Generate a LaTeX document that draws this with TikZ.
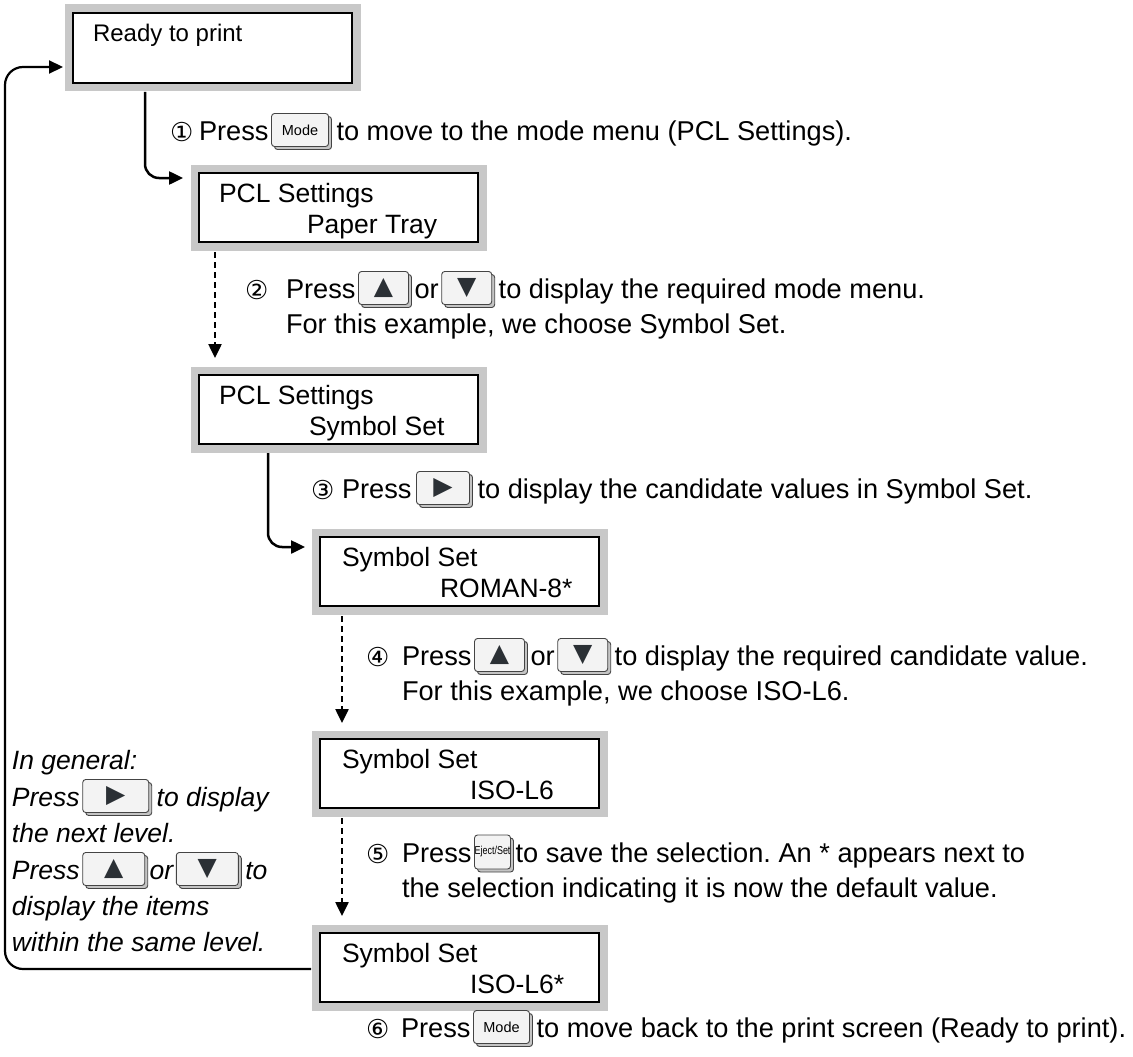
\documentclass[tikz,border=0pt]{standalone}
\usepackage{fontspec}
\setmainfont{Liberation Sans}
\newfontfamily\dv{DejaVu Sans}
\usetikzlibrary{arrows.meta,shadows,calc}
\definecolor{boxgrey}{HTML}{C8C8C8}
\definecolor{keyface}{HTML}{F3F3F3}
\definecolor{keyshadow}{HTML}{C4C4C4}
\definecolor{keyedge}{HTML}{444444}
\definecolor{trink}{HTML}{2B3035}
\newcommand{\fs}{\fontsize{26.5}{30}\selectfont}
\newcommand{\fa}{\fontsize{27.2}{30}\selectfont\frenchspacing}
\newcommand{\cnum}[1]{{\dv\fontsize{26}{26}\selectfont #1}}
\newcommand{\trig}[1]{{\dv\fontsize{25}{25}\selectfont\color{trink}#1}}
\newcommand{\keytxt}{\fontsize{14.5}{14.5}\selectfont}
\begin{document}
\begin{tikzpicture}[x=1pt,y=-1pt,
  screen/.style={draw=black, line width=2.5pt, fill=white, preaction={draw=boxgrey, line width=17pt}, minimum width=279pt, minimum height=70pt, inner sep=0pt, outer sep=0pt, anchor=north west},
  txt/.style={anchor=base west, inner sep=0pt, outer sep=0pt, font=\fs},
  atx/.style={txt, font=\fa},
  itx/.style={txt, font=\fs\itshape},
  key/.style={anchor=west, draw=keyedge, line width=0.9pt, fill=keyface, rounded corners=3pt, minimum height=33pt, inner sep=0pt, outer sep=0pt, general shadow={fill=keyshadow, draw=keyedge, line width=0.9pt, shadow xshift=3pt, shadow yshift=-3pt}},
  flow/.style={line width=2.5pt, -{Triangle[length=14pt,width=13pt]}},
  dflow/.style={line width=2.5pt, dash pattern=on 6pt off 4pt, -{Triangle[length=14pt,width=13pt]}},
]
\useasboundingbox (0,0) rectangle (1133,1057);

% screens
\node[screen] (b1) at (73,13) {};
\node[screen, minimum height=69pt] (b2) at (199,173) {};
\node[screen, minimum height=69pt] (b3) at (199,375) {};
\node[screen, minimum height=69pt] (b4) at (320,537) {};
\node[screen, minimum height=69pt] (b5) at (320,739) {};
\node[screen, minimum height=69pt] (b6) at (320,933) {};

\node[txt, font=\fontsize{24}{28}\selectfont] (t1) at ([shift={(20,29)}]b1.north west) {Ready to print};
\node[txt] (t2a) at ([shift={(20,29)}]b2.north west) {PCL Settings};
\node[txt] (t2b) at ([shift={(108,60)}]b2.north west) {Paper Tray};
\node[txt] (t3a) at ([shift={(20,29)}]b3.north west) {PCL Settings};
\node[txt] (t3b) at ([shift={(110,60)}]b3.north west) {Symbol Set};
\node[txt] (t4a) at ([shift={(22,29)}]b4.north west) {Symbol Set};
\node[txt] (t4b) at ([shift={(120,60)}]b4.north west) {ROMAN-8*};
\node[txt] (t5a) at ([shift={(22,29)}]b5.north west) {Symbol Set};
\node[txt] (t5b) at ([shift={(150,60)}]b5.north west) {ISO-L6};
\node[txt] (t6a) at ([shift={(22,29)}]b6.north west) {Symbol Set};
\node[txt] (t6b) at ([shift={(150,60)}]b6.north west) {ISO-L6*};

% connectors
\draw[flow, rounded corners=14pt] ([shift={(72,9)}]b1.south west) |- ([shift={(-16,5)}]b2.north west);
\draw[dflow] ([shift={(16,10)}]b2.south west) -- ([shift={(16,-17)}]b3.north west);
\draw[flow, rounded corners=14pt] ([shift={(69,9)}]b3.south west) |- ([shift={(-15,10)}]b4.north west);
\draw[dflow] ([shift={(22,10)}]b4.south west) -- ([shift={(22,-16)}]b5.north west);
\draw[dflow] ([shift={(22,10)}]b5.south west) -- ([shift={(22,-17)}]b6.north west);
\coordinate (lp) at (5,500);
\draw[flow, line width=2.2pt, rounded corners=18pt] ([shift={(-9,36)}]b6.north west) -| (lp) |- ([shift={(-10,54)}]b1.north west);

% step 1
\node[atx] (n1) at (170,141) {\cnum{①}};
\node[atx] (p1) at (199,140) {Press};
\node[key, minimum width=57pt] (k1) at ($(p1.base east)+(3,-10)$) {\keytxt Mode};
\node[atx] (r1) at ($(k1.east |- p1.base)+(8,0)$) {to move to the mode menu (PCL Settings).};

% step 2
\node[atx] (n2) at (245,299) {\cnum{②}};
\node[atx] (p2) at (286,298) {Press};
\node[key, minimum width=50pt] (k2a) at ($(p2.base east)+(3,-10)$) {\trig{▲}};
\node[atx] (o2) at ($(k2a.east |- p2.base)+(6,0)$) {or};
\node[key, minimum width=50pt] (k2b) at ($(o2.base east)+(3,-10)$) {\trig{▼}};
\node[atx] (r2) at ($(k2b.east |- p2.base)+(7,0)$) {to display the required mode menu.};
\node[atx] (s2) at ($(p2.base west)+(0,35)$) {For this example, we choose Symbol Set.};

% step 3
\node[atx] (n3) at (311,499) {\cnum{③}};
\node[atx] (p3) at (342,498) {Press};
\node[key, minimum width=53pt] (k3) at ($(p3.base east)+(5,-10)$) {\trig{▶}};
\node[atx] (r3) at ($(k3.east |- p3.base)+(8,0)$) {to display the candidate values in Symbol Set.};

% step 4
\node[atx] (n4) at (366,666) {\cnum{④}};
\node[atx] (p4) at (402,665) {Press};
\node[key, minimum width=50pt] (k4a) at ($(p4.base east)+(3,-10)$) {\trig{▲}};
\node[atx] (o4) at ($(k4a.east |- p4.base)+(6,0)$) {or};
\node[key, minimum width=50pt] (k4b) at ($(o4.base east)+(3,-10)$) {\trig{▼}};
\node[atx] (r4) at ($(k4b.east |- p4.base)+(7,0)$) {to display the required candidate value.};
\node[atx] (s4) at ($(p4.base west)+(0,35)$) {For this example, we choose ISO-L6.};

% step 5
\node[atx] (n5) at (366,863) {\cnum{⑤}};
\node[atx] (p5) at (402,862) {Press};
\node[key, minimum width=36pt, minimum height=34pt] (k5) at ($(p5.base east)+(3,-10)$) {\scalebox{0.78}[1]{\fontsize{11.5}{11.5}\selectfont Eject/Set}};
\node[atx] (r5) at ($(k5.east |- p5.base)+(5,0)$) {to save the selection. An * appears next to};
\node[atx] (s5) at ($(p5.base west)+(0,35)$) {the selection indicating it is now the default value.};

% step 6
\node[atx] (n6) at (366,1038) {\cnum{⑥}};
\node[atx] (p6) at (401,1037) {Press};
\node[key, minimum width=56pt] (k6) at ($(p6.base east)+(3,-10)$) {\keytxt Mode};
\node[atx] (r6) at ($(k6.east |- p6.base)+(7,0)$) {to move back to the print screen (Ready to print).};

% general note
\node[itx] (g1) at (12,769) {In general:};
\node[itx] (g2) at (12,806) {Press};
\node[key, minimum width=66pt] (kg2) at ($(g2.base east)+(3,-10)$) {\trig{▶}};
\node[itx] (g2b) at ($(kg2.east |- g2.base)+(8,0)$) {to display};
\node[itx] (g3) at (12,842) {the next level.};
\node[itx] (g4) at (12,879) {Press};
\node[key, minimum width=62pt] (kg4a) at ($(g4.base east)+(3,-10)$) {\trig{▲}};
\node[itx] (g4b) at ($(kg4a.east |- g4.base)+(5,0)$) {or};
\node[key, minimum width=62pt] (kg4b) at ($(g4b.base east)+(3,-10)$) {\trig{▼}};
\node[itx] (g4c) at ($(kg4b.east |- g4.base)+(7,0)$) {to};
\node[itx] (g5) at (12,915) {display the items};
\node[itx] (g6) at (12,951) {within the same level.};
\end{tikzpicture}
\end{document}
